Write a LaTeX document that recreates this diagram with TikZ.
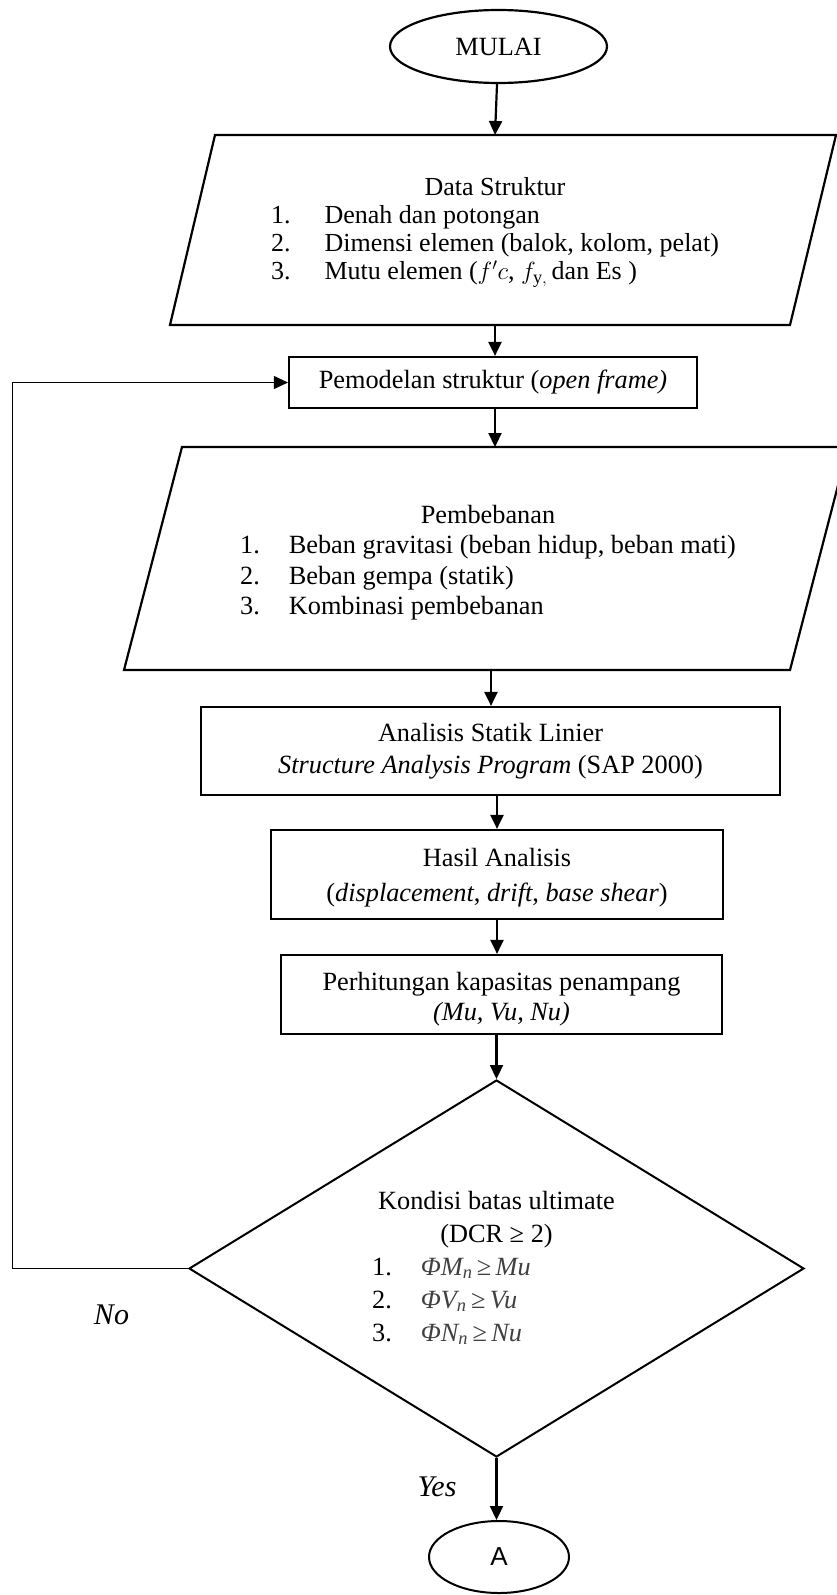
\documentclass[tikz,border=0pt]{standalone}
\usepackage{fontspec}
\setmainfont{Liberation Serif}
\newfontfamily\arialfont{Liberation Sans}
\usetikzlibrary{positioning,arrows.meta,shapes.geometric}

\begin{document}
\begin{tikzpicture}[
    x=1pt, y=-1pt,
    font=\fontsize{26.3}{30}\selectfont,
    >={Triangle[length=14pt,width=13pt]},
    line join=miter,
    box/.style={draw, line width=2.2pt, rectangle, inner sep=0pt, align=center},
    oval/.style={draw, line width=2.2pt, ellipse, inner sep=0pt},
    flow/.style={->, line width=2.2pt},
    answer/.style={font=\fontsize{30}{30}\selectfont\itshape}
]

% ========= Page frame =========
\useasboundingbox (0,0) rectangle (837,1595);
\clip (0,0) rectangle (837,1595);

% ========= Start =========
\node[oval, minimum width=217pt, minimum height=73pt] (mulai) at (498.5,46.5) {MULAI};

% ========= Data Struktur (input) =========
\draw[line width=2.2pt] (215,135) -- (836,135) -- (790,325) -- (170,325) -- cycle;
\coordinate (data-n) at (495,135);
\coordinate (data-s) at (495,325);
\node[font=\fontsize{26}{28}\selectfont] (data) at (495,232) {%
    \begin{tabular}{@{}l@{\hspace{34pt}}l@{}}
    \multicolumn{2}{c}{Data Struktur}\\
    1. & Denah dan potongan\\
    2. & Dimensi elemen (balok, kolom, pelat)\\
    3. & Mutu elemen ($f'c$, $f_{\mathrm{y},}$\,dan Es )
    \end{tabular}};

% ========= Pemodelan =========
\node[box, minimum width=408pt, minimum height=51pt] (pemodelan) at (493,382.5)
    {Pemodelan struktur (\textit{open frame)}};

% ========= Pembebanan (input) =========
\draw[line width=2.2pt] (182,447) -- (848,447) -- (790,670) -- (124,670) -- cycle;
\coordinate (beban-n) at (495,447);
\coordinate (beban-s) at (491,670);
\node[font=\fontsize{26.3}{30.5}\selectfont] (beban) at (488,563) {%
    \begin{tabular}{@{}l@{\hspace{29pt}}l@{}}
    \multicolumn{2}{c}{Pembebanan}\\
    1. & Beban gravitasi (beban hidup, beban mati)\\
    2. & Beban gempa (statik)\\
    3. & Kombinasi pembebanan
    \end{tabular}};

% ========= Analisis =========
\node[box, minimum width=579pt, minimum height=88pt, font=\fontsize{26.3}{32}\selectfont]
    (analisis) at (490.5,751)
    {Analisis Statik Linier\\ \textit{Structure Analysis Program} (SAP 2000)};

\node[box, minimum width=452pt, minimum height=89pt, font=\fontsize{26.3}{35}\selectfont]
    (hasil) at (497,874.5)
    {\raisebox{-2pt}[\height][\depth]{\begin{tabular}{@{}c@{}}Hasil Analisis\\ (\textit{displacement}, \textit{drift}, \textit{base shear})\end{tabular}}};

\node[box, minimum width=441pt, minimum height=79pt, font=\fontsize{26.3}{30}\selectfont]
    (perhitungan) at (501.5,994.5)
    {\raisebox{-5pt}[\height][\depth]{\begin{tabular}{@{}c@{}}Perhitungan kapasitas penampang\\ \textit{(Mu, Vu, Nu)}\end{tabular}}};

% ========= Decision =========
\node[draw, diamond, aspect=1.63, line width=2pt, inner sep=0pt,
      minimum width=615pt, minimum height=377pt,
      font=\fontsize{26.3}{33}\selectfont] (cek) at (496.5,1268.5) {%
    \begin{tabular}{@{}l@{\hspace{29pt}}l@{}}
    \multicolumn{2}{c}{Kondisi batas ultimate}\\
    \multicolumn{2}{c}{(DCR ≥ 2)}\\
    1. & \color{black!75}\textit{ΦM\textsubscript{n}}\,≥\,\textit{Mu}\\
    2. & \color{black!75}\textit{ΦV\textsubscript{n}}\,≥\,\textit{Vu}\\
    3. & \color{black!75}\textit{ΦN\textsubscript{n}}\,≥\,\textit{Nu}
    \end{tabular}};

% ========= End connector =========
\node[oval, line width=2pt, minimum width=140pt, minimum height=72pt,
      font=\fontsize{26}{30}\arialfont] (selesai) at (499,1557) {A};

% ========= Labels =========
\node[answer] (no) at (111.5,1315) {No};
\node[answer] (yes) at (437,1487) {Yes};

% ========= Arrows =========
\draw[flow] (mulai) -- (data-n);
\draw[flow] (data-s) -- (data-s |- pemodelan.north);
\draw[flow] (pemodelan.south -| beban-n) -- (beban-n);
\draw[flow] (beban-s) -- (beban-s |- analisis.north);
\draw[flow] (hasil.north |- analisis.south) -- (hasil.north);
\draw[flow] (hasil.south) -- (hasil.south |- perhitungan.north);
\draw[flow] (perhitungan.south -| cek.north) -- (cek.north);
\draw[flow] (cek.south) -- (cek.south |- selesai.north);

% loop back (No)
\coordinate (loopx) at (12,0);
\draw[->, line width=1pt] (cek.west) -- (cek.west -| loopx) |- (pemodelan.west);

\end{tikzpicture}
\end{document}
